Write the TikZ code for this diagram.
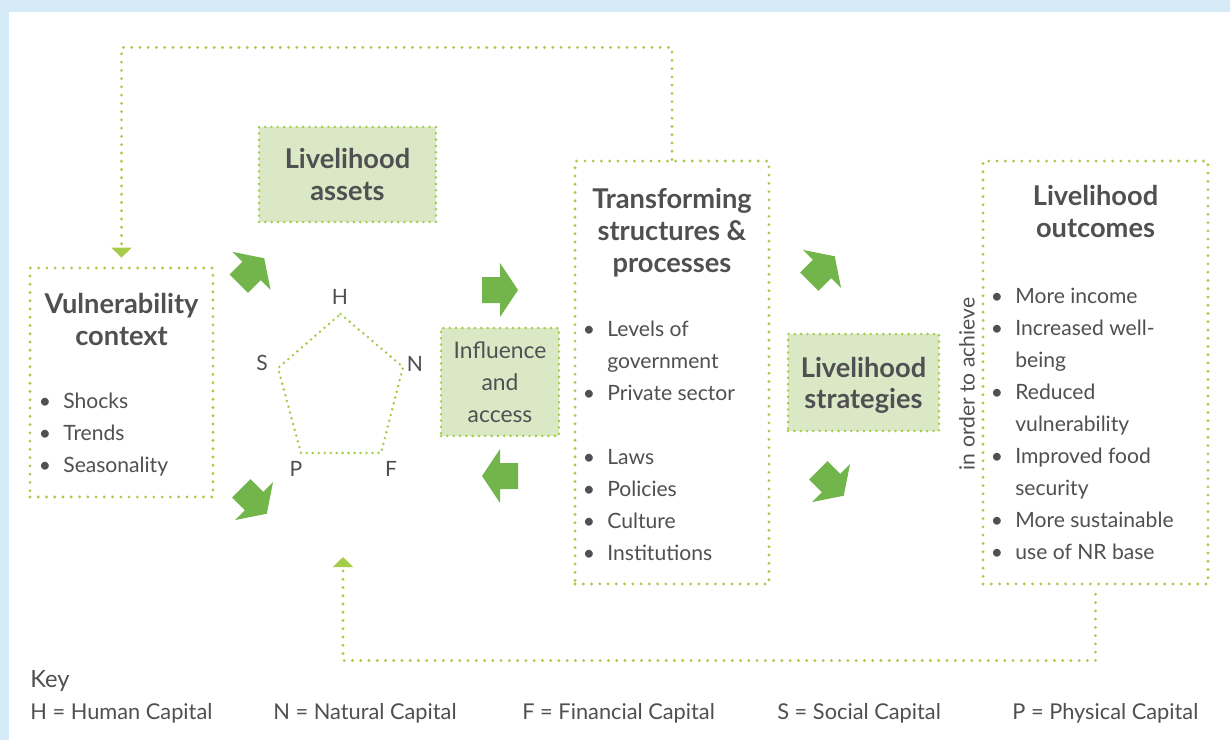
\documentclass[tikz,border=0pt]{standalone}
\usepackage{fontspec}
\setmainfont{Lato}
\usetikzlibrary{arrows.meta}
\definecolor{bgblue}{RGB}{214,235,248}
\definecolor{dotgreen}{RGB}{166,204,74}
\definecolor{arrowgreen}{RGB}{114,181,74}
\definecolor{boxgreen}{RGB}{218,232,198}
\definecolor{textgray}{RGB}{80,80,82}
\newcommand\bul{\llap{\textbullet\hspace{7pt}}}

\begin{document}
\begin{tikzpicture}[x=0.02cm,y=-0.02cm,font=\fontsize{12}{18}\selectfont,text=textgray,
  dotline/.style={dotgreen,line width=1.8pt,line cap=round,dash pattern=on 0pt off 4.7pt},
  outbox/.style={draw=dotgreen,line width=1.8pt,line cap=round,dash pattern=on 0pt off 4.7pt,inner sep=0pt},
  fillbox/.style={fill=boxgreen,draw=dotgreen,line width=1.6pt,line cap=round,dash pattern=on 0pt off 3.6pt,inner sep=0pt},
  pentline/.style={dotgreen,line width=1.6pt,line cap=round,dash pattern=on 0pt off 3.4pt},
  title/.style={font=\fontsize{15.5}{18}\bfseries\selectfont,anchor=base,inner sep=0pt},
  item/.style={anchor=base west,inner sep=0pt},
  keyitem/.style={item,font=\fontsize{12.4}{18}\selectfont},
  feedback/.style={dotline,-{Triangle[width=11.3pt,length=5.7pt]}},
  pics/blockarrow/.style={code={\fill[arrowgreen] (-18,-13) -- (0,-13) -- (0,-27) -- (18,0) -- (0,27) -- (0,13) -- (-18,13) -- cycle;}}]
\fill[bgblue] (0,0) rectangle (1230,740);
\fill[white] (9,12) rectangle (1230,740);
\useasboundingbox (0,0) rectangle (1230,740);

% boxes
\node[outbox,minimum width=3.66cm,minimum height=4.58cm] (vc) at (121.5,382.5) {};
\node[fillbox,minimum width=3.54cm,minimum height=1.9cm] (la) at (347.5,174.5) {};
\node[fillbox,minimum width=2.36cm,minimum height=2.16cm] (ia) at (500,382) {};
\node[outbox,minimum width=3.88cm,minimum height=8.46cm] (ts) at (672,372.5) {};
\node[fillbox,minimum width=3.02cm,minimum height=1.94cm] (ls) at (863.5,382.5) {};
\node[outbox,minimum width=4.5cm,minimum height=8.46cm] (lo) at (1095.5,372.5) {};

% titles
\node[title] (vc-t1) at (121.5,313) {Vulnerability};
\node[title] (vc-t2) at (121.5,345) {context};
\node[title] (la-t1) at (347.5,168) {Livelihood};
\node[title] (la-t2) at (347.5,200) {assets};
\node[title] (ts-t1) at (672,208) {Transforming};
\node[title] (ts-t2) at (672,240) {structures \&};
\node[title] (ts-t3) at (672,272) {processes};
\node[title] (ls-t1) at (863.5,377) {Livelihood};
\node[title] (ls-t2) at (863.5,408) {strategies};
\node[title] (lo-t1) at (1095.5,205) {Livelihood};
\node[title] (lo-t2) at (1095.5,237) {outcomes};
\node[anchor=base,inner sep=0pt,font=\fontsize{13}{18}\selectfont] (ia-t1) at (500,358) {Influence};
\node[anchor=base,inner sep=0pt,font=\fontsize{13}{18}\selectfont] (ia-t2) at (500,390) {and};
\node[anchor=base,inner sep=0pt,font=\fontsize{13}{18}\selectfont] (ia-t3) at (500,422) {access};

% bullet lists
\foreach \t [count=\i from 0] in {Shocks,Trends,Seasonality}
  \node[item] (vc-\i) at (63,408+32*\i) {\bul\t};
\foreach \y/\t [count=\i] in {336/\bul Levels of,368/government,400/\bul Private sector,
    464/\bul Laws,496/\bul Policies,528/\bul Culture,560/\bul Institutions}
  \node[item] (ts-\i) at (607,\y) {\t};
\foreach \t [count=\i from 0] in {\bul More income,\bul Increased well-,being,\bul Reduced,
    vulnerability,\bul Improved food,security,\bul More sustainable,\bul use of NR base}
  \node[item] (lo-\i) at (1015,303+32*\i) {\t};
\node[rotate=90] (ach) at (967,384) {in order to achieve};

% asset pentagon
\coordinate (H) at (340.5,314);
\coordinate (N) at (403,367);
\coordinate (F) at (381,453);
\coordinate (P) at (301,453);
\coordinate (S) at (278,368);
\draw[pentline] (H) -- (N) -- (F) -- (P) -- (S) -- cycle;
\node (lH) at (340,297) {H};
\node (lN) at (415,364) {N};
\node (lF) at (391,469) {F};
\node (lP) at (296,469) {P};
\node (lS) at (262,363) {S};

% green arrows
\pic[rotate=45] (a1) at (251.5,271) {blockarrow};
\pic[rotate=-45] (a2) at (254,501) {blockarrow};
\pic (a3) at (500,290) {blockarrow};
\pic[rotate=180] (a4) at (500,476) {blockarrow};
\pic[rotate=45] (a5) at (822,269) {blockarrow};
\pic[rotate=-45] (a6) at (831,483) {blockarrow};

% feedback loops
\draw[feedback,shorten >=5pt] (ts.north) -- ++(0,-112) -| (vc.north);
\coordinate (pentin) at (343,557);
\draw[feedback,shorten <=5pt] (lo.south) -- ++(0,75) -| (pentin);

% key
\node[keyitem,font=\fontsize{13.5}{18}\selectfont] (key) at (30,687) {Key};
\node[keyitem] (kH) at (30,719) {H = Human Capital};
\node[keyitem] (kN) at (273,719) {N = Natural Capital};
\node[keyitem] (kF) at (522,719) {F = Financial Capital};
\node[keyitem] (kS) at (777,719) {S = Social Capital};
\node[keyitem] (kP) at (1012,719) {P = Physical Capital};
\end{tikzpicture}
\end{document}
